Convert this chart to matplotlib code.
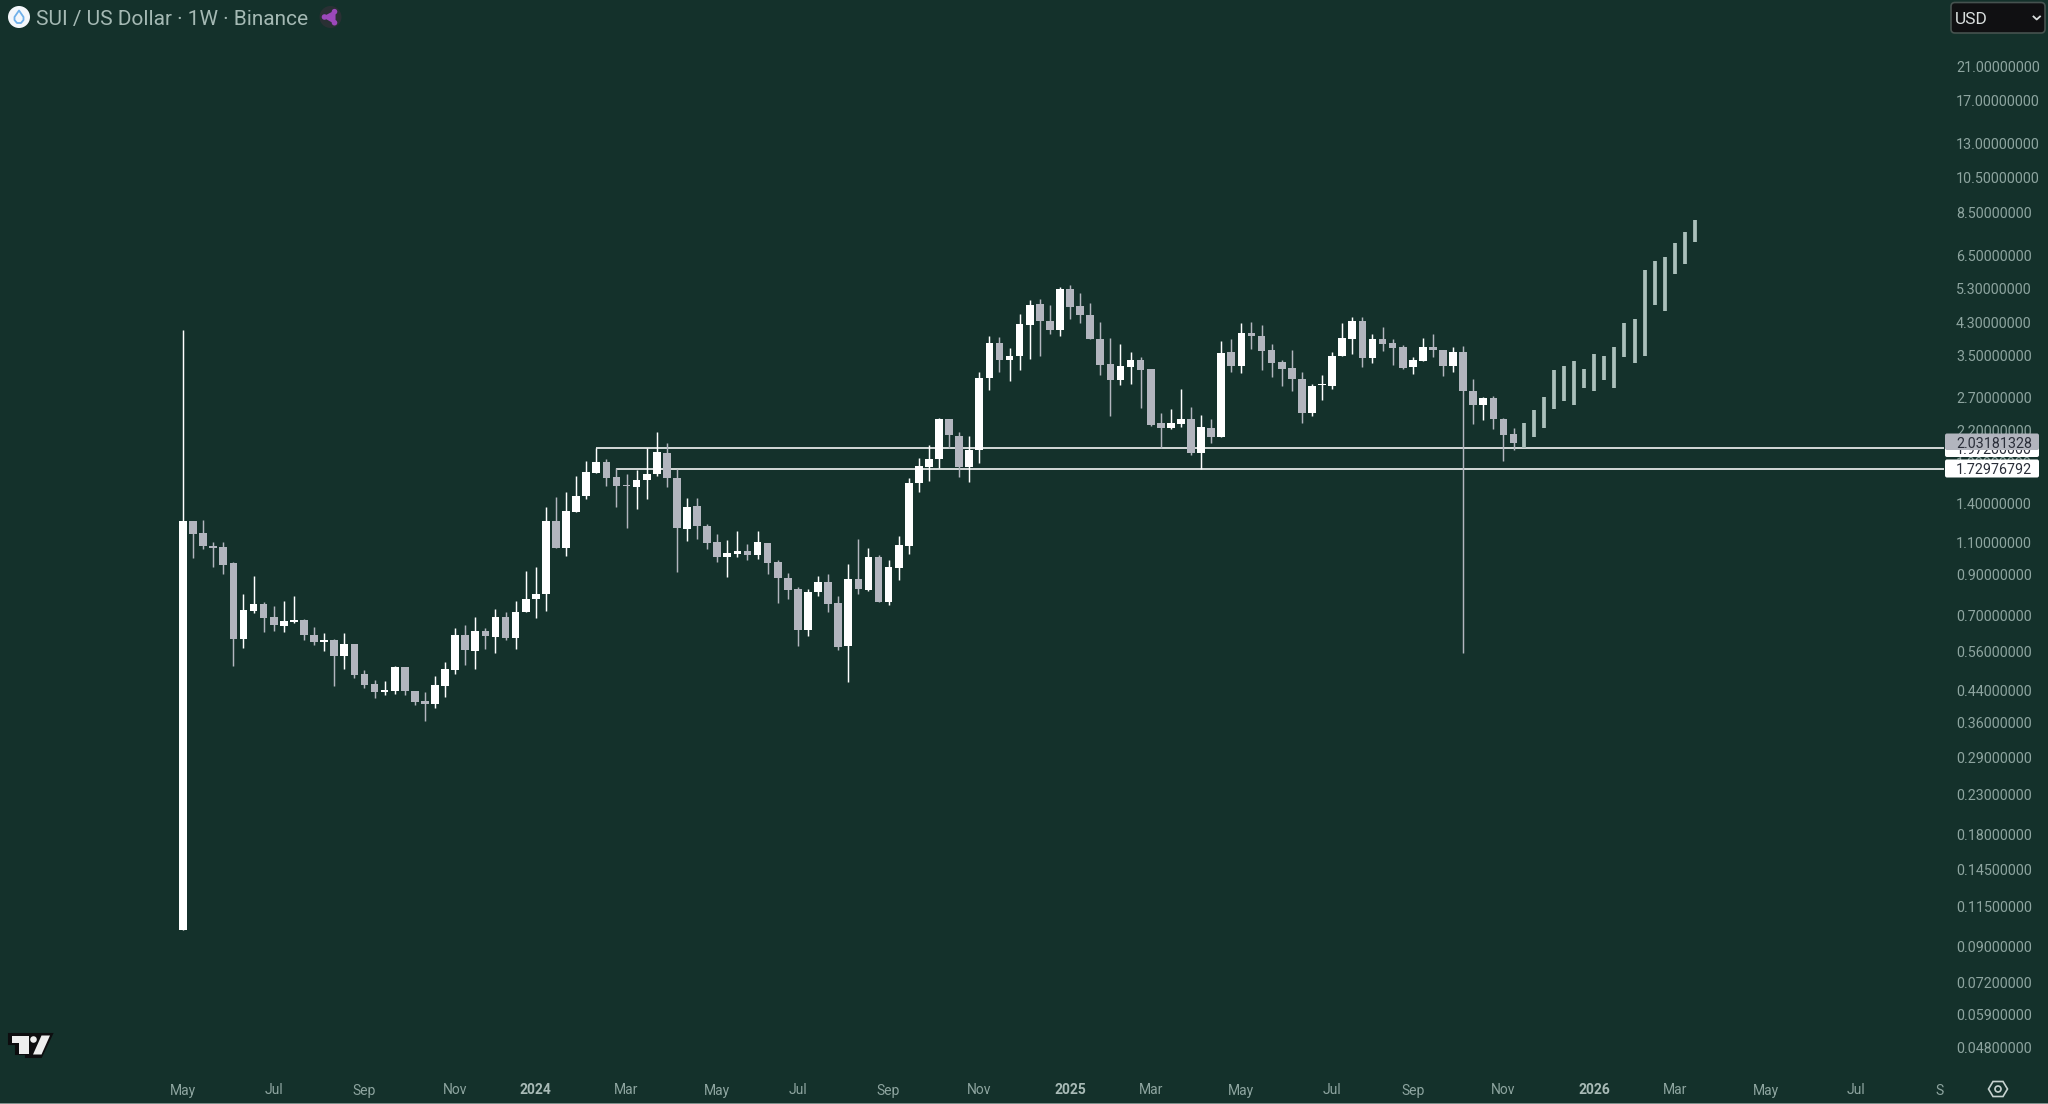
import matplotlib
matplotlib.use("Agg")
import numpy as np
import matplotlib.pyplot as plt
from matplotlib.patches import Circle, FancyBboxPatch, Polygon, Rectangle

# ---------------- data ----------------
opens = [0.09963,1.254,1.162,1.077,1.066,0.9651,0.604,0.7184,0.7487,0.6908,0.656,0.6711,0.6809,0.6205,0.5917,0.5991,0.5426,0.5844,0.4853,0.4562,
0.4341,0.4377,0.5089,0.4377,0.4106,0.403,0.4515,0.4975,0.6179,0.5608,0.6347,0.6128,0.6936,0.6091,0.7125,0.7754,0.7998,1.257,1.063,1.329,
1.461,1.692,1.804,1.644,1.564,1.552,1.614,1.678,1.915,1.637,1.194,1.377,1.219,1.099,1.004,1.023,1.044,1.014,1.095,0.9711,
0.8831,0.8216,0.6387,0.8065,0.8615,0.7534,0.5772,0.8759,0.8199,1.004,0.7596,0.9396,1.077,1.584,1.753,1.838,2.354,2.128,1.756,1.947,
3.035,3.785,3.393,3.485,4.232,4.809,4.338,4.086,5.267,4.75,4.493,3.88,3.324,2.998,3.256,3.393,3.209,2.297,2.227,2.287,
2.354,1.915,2.236,2.106,3.565,3.269,4.019,3.953,3.61,3.351,3.229,3.029,2.449,2.906,2.9,3.485,3.88,4.329,3.442,3.872,
3.77,3.677,3.249,3.386,3.693,3.617,3.269,3.565,2.806,2.578,2.681,2.359,2.146]
highs = [4.094,1.254,1.262,1.099,1.104,0.9711,0.7982,0.8923,0.7596,0.741,0.7659,0.7884,0.6837,0.6506,0.6282,0.6028,0.6256,0.5844,0.4985,0.4686,
0.4667,0.511,0.5089,0.4386,0.4341,0.4803,0.5249,0.6466,0.6574,0.6908,0.648,0.7274,0.7155,0.7659,0.9223,0.9454,1.365,1.458,1.498,1.658,
1.819,1.967,1.838,1.738,1.678,1.72,1.967,2.181,2.029,1.727,1.449,1.443,1.231,1.16,1.115,1.177,1.086,1.177,1.097,0.9853,
0.9072,0.8353,0.8216,0.8923,0.9034,0.7884,0.9611,1.12,1.059,1.016,0.9853,1.143,1.634,1.853,2.004,2.369,2.354,2.172,2.128,3.15,
3.953,3.929,3.67,4.511,4.93,4.961,4.77,5.354,5.399,5.138,4.849,4.293,3.904,3.746,3.58,3.457,3.209,2.444,2.505,2.835,
2.547,2.418,2.364,3.824,3.88,4.284,4.302,4.214,3.754,3.4,3.61,3.163,2.936,3.092,3.58,4.267,4.428,4.447,3.994,4.18,
3.864,3.731,3.457,3.888,3.986,3.625,3.693,3.716,3.016,2.698,2.726,2.369,2.231]
lows = [0.09963,0.9996,1.057,0.9415,0.9034,0.511,0.5713,0.711,0.6321,0.636,0.6308,0.6656,0.6003,0.5832,0.5619,0.4515,0.5016,0.4735,0.4469,0.4192,
0.427,0.4297,0.427,0.4014,0.3635,0.394,0.4226,0.4873,0.5142,0.5006,0.5666,0.555,0.6003,0.5666,0.7125,0.6865,0.7199,1.059,1.01,1.329,
1.44,1.692,1.558,1.371,1.204,1.354,1.438,1.658,1.548,0.9128,1.111,1.122,1.057,0.9751,0.8868,1.006,0.9832,0.9914,0.9053,0.7534,
0.7738,0.5784,0.6154,0.7867,0.7125,0.5643,0.4638,0.7998,0.8115,0.7596,0.7441,0.8687,1.023,1.498,1.607,1.745,1.967,1.651,1.6,1.8,
2.823,3.156,2.985,3.196,3.414,3.492,3.986,3.945,4.392,4.284,3.864,3.092,2.404,2.912,2.924,2.526,2.264,1.976,2.222,2.25,
1.884,1.727,2.029,2.106,3.163,3.13,3.647,3.196,3.054,2.894,2.812,2.306,2.404,2.654,2.841,3.485,3.521,3.262,3.337,3.602,
3.303,3.216,3.118,3.372,3.464,3.079,3.163,0.5539,2.287,2.34,2.213,1.823,1.951]
closes = [1.254,1.157,1.072,1.061,0.9572,0.604,0.7214,0.7487,0.6879,0.6588,0.6753,0.6795,0.6192,0.5917,0.5991,0.5426,0.5844,0.4833,0.4543,0.4341,
0.4395,0.5089,0.4377,0.4097,0.403,0.4534,0.5027,0.6179,0.5643,0.6347,0.6154,0.6936,0.6091,0.7155,0.7754,0.7998,1.252,1.059,1.335,1.468,
1.699,1.804,1.641,1.558,1.558,1.62,1.678,1.923,1.641,1.201,1.371,1.214,1.095,1.004,1.031,1.044,1.014,1.099,0.9691,0.8795,
0.8182,0.6387,0.8098,0.8615,0.7487,0.576,0.8759,0.8233,1.004,0.7596,0.9415,1.081,1.591,1.763,1.845,2.354,2.132,1.756,1.947,3.048,
3.785,3.393,3.485,4.249,4.78,4.32,4.086,5.267,4.731,4.493,3.864,3.296,2.998,3.283,3.393,3.196,2.278,2.227,2.297,2.359,
1.915,2.245,2.106,3.551,3.269,4.019,3.945,3.602,3.337,3.222,3.023,2.449,2.9,2.924,3.492,3.888,4.329,3.442,3.872,3.762,
3.67,3.242,3.4,3.693,3.61,3.276,3.565,2.812,2.578,2.681,2.354,2.137,2.033]
proj_high = [2.306,2.495,2.698,3.189,3.269,3.372,3.216,3.536,3.485,3.677,4.276,4.383,5.924,6.264,6.421,7.003,7.512,8.075]
proj_low = [1.967,2.11,2.231,2.515,2.638,2.573,2.859,2.812,2.998,2.859,3.457,3.344,3.485,4.78,4.596,5.791,6.174,7.061]

level_upper = 1.972
level_lower = 1.72976792
level_upper_start = 41
level_lower_start = 43
last_price = 2.03181328

price_ticks = [21, 17, 13, 10.5, 8.5, 6.5, 5.3, 4.3, 3.5, 2.7, 2.2, 1.8, 1.4, 1.1, 0.9, 0.7,
               0.56, 0.44, 0.36, 0.29, 0.23, 0.18, 0.145, 0.115, 0.09, 0.072, 0.059, 0.048]
date_labels = ["May", "Jul", "Sep", "Nov", "2024", "Mar", "May", "Jul", "Sep", "Nov", "2025", "Mar",
               "May", "Jul", "Sep", "Nov", "2026", "Mar", "May", "Jul", "Sep"]
date_weeks = [0, 9, 18, 27, 35, 44, 53, 61, 70, 79, 88, 96, 105, 114, 122, 131, 140, 148, 157, 166, 175]

# ---------------- style ----------------
BG = "#14312b"
WHITE = "#ffffff"
GREY = "#b2b5be"
PROJ = "#aabfba"
TICK = "#8ea5a0"
W, H = 2048, 1104
PX_PER_WEEK = 10.08
X0 = 183.0
plt.rcParams["font.family"] = ["Roboto", "DejaVu Sans"]

fig = plt.figure(figsize=(W / 100, H / 100), dpi=100, facecolor=BG)
ax = fig.add_axes([0, 0, 1, 1], facecolor=BG)
ax.set_yscale("log")
ax.set_xlim(-X0 / PX_PER_WEEK, (W - X0) / PX_PER_WEEK)
ax.set_ylim(21 * 10 ** (-(H - 66) / 371.8), 21 * 10 ** (66 / 371.8))
ax.set_axis_off()

# levels run under the candles
right_edge = (1944 - X0) / PX_PER_WEEK
ax.hlines([level_upper, level_lower], [level_upper_start, level_lower_start], right_edge,
          color=WHITE, lw=1.15, zorder=1)

opens_a, highs_a, lows_a, closes_a = map(np.array, (opens, highs, lows, closes))
idx = np.arange(len(opens_a))
colors = [WHITE if c >= o else GREY for o, c in zip(opens_a, closes_a)]
ax.vlines(idx, lows_a, highs_a, colors=colors, lw=1.05, zorder=2)
tops = np.maximum(opens_a, closes_a)
bots = np.minimum(opens_a, closes_a)
ax.bar(idx, tops - bots, bottom=bots, width=0.76, color=colors, lw=0, zorder=3)

pidx = np.arange(len(proj_high)) + len(opens_a)
ax.vlines(pidx, proj_low, proj_high, colors=PROJ, lw=2.7, zorder=3)

# overlay in pixel coordinates for the chart furniture
ov = fig.add_axes([0, 0, 1, 1], facecolor="none")
ov.set_xlim(0, W)
ov.set_ylim(H, 0)
ov.set_axis_off()

# price axis labels
for p in price_ticks:
    y = 66 + (np.log10(21) - np.log10(p)) * 371.8
    ov.text(1956, y, f"{p:.8f}", color=TICK, fontsize=10.3, ha="left", va="center_baseline", zorder=2)

# price labels, stacked: the last-price box hides most of the upper level's box
def price_box(y0, y1, face, z):
    ov.add_patch(FancyBboxPatch((1945, y0), 94, y1 - y0, boxstyle="round,pad=0,rounding_size=2",
                                fc=face, ec="none", zorder=z))

price_box(439, 457, WHITE, 4)
ov.text(1956, 448, f"{level_upper:.8f}", color="#2a2e39", fontsize=10.3, va="center_baseline", zorder=4.5)
price_box(459.5, 477.5, WHITE, 4)
ov.text(1956, 469, f"{level_lower:.8f}", color="#2a2e39", fontsize=10.3, va="center_baseline", zorder=4.5)
price_box(433.5, 450, GREY, 6)
ov.text(1956, 442.5, f"{last_price:.8f}", color="#2a2e39", fontsize=10.3, va="center_baseline", zorder=7)

# date labels
for lab, wk in zip(date_labels, date_weeks):
    x = X0 + wk * PX_PER_WEEK
    bold = lab.isdigit()
    t = ov.text(x, 1089, lab, color="#a9bbb7" if bold else TICK, fontsize=10,
                fontweight="bold" if bold else "normal", ha="center", va="center_baseline")
    t.set_clip_path(Rectangle((0, 0), 1944, H, transform=ov.transData))
    t.set_clip_on(True)

# bottom strip
ov.add_patch(Rectangle((0, 1102.5), W, 1.5, fc="#7f8f8b", ec="none"))

# title
ov.text(36, 17, "SUI / US Dollar · 1W · Binance", color="#a5b9b4", fontsize=15, va="center_baseline", ha="left")
ov.add_patch(Circle((19, 17), 11, fc="#f4f7fb", ec="none"))
drop = np.array([[19, 10.5], [23.5, 17], [23.5, 20], [21, 23], [17, 23], [14.5, 20], [14.5, 17]])
ov.add_patch(Polygon(drop, closed=True, fc="none", ec="#6fb0ea", lw=1.3, joinstyle="round"))

# purple network icon
ov.add_patch(Circle((330.5, 17), 11, fc="#2a3034", ec="none"))
nodes = [(334.5, 11.7), (324.5, 17), (334.5, 22.7)]
ov.add_patch(Polygon(nodes, closed=True, fc="#9c48bb", ec="#9c48bb", lw=1.5))
for n in nodes:
    ov.add_patch(Circle(n, 2.8, fc="#9c48bb", ec="none"))

# currency box
ov.add_patch(FancyBboxPatch((1951, 2.5), 94, 30.5, boxstyle="round,pad=0,rounding_size=4",
                            fc="#101012", ec="#46524f", lw=1.2))
ov.text(1955, 17.5, "USD", color="#d9dedd", fontsize=12.5, va="center_baseline", ha="left")
ov.plot([2033.5, 2036.7, 2040], [16.5, 19.5, 16.5], color="#d9dedd", lw=1.3)

# settings icon
hexagon = [(1988.5, 1089), (1993, 1081.5), (2003, 1081.5), (2007.5, 1089), (2003, 1096.5), (1993, 1096.5)]
ov.add_patch(Polygon(hexagon, closed=True, fc="none", ec="#c7d3d0", lw=1.2))
ov.add_patch(Circle((1998, 1089), 3, fc="none", ec="#c7d3d0", lw=1.2))

# TradingView logo
black_bg = [(9, 1034), (52, 1034), (41, 1057), (26, 1057), (26, 1054), (16, 1054), (16, 1044), (9, 1044)]
ov.add_patch(Polygon(black_bg, closed=True, fc="#0d0d0f", ec="#0d0d0f", lw=1.5))
ov.add_patch(Polygon([(12, 1035.5), (28.5, 1035.5), (28.5, 1053.5), (19, 1053.5), (19, 1043), (12, 1043)],
                     closed=True, fc="#eeeeee", ec="none"))
ov.add_patch(Circle((33.5, 1039.5), 3.3, fc="#eeeeee", ec="none"))
ov.add_patch(Polygon([(41.5, 1035.5), (50, 1035.5), (41.5, 1054.5), (33, 1054.5)],
                     closed=True, fc="#eeeeee", ec="none"))

fig.savefig("out.png", dpi=100, facecolor=BG)
